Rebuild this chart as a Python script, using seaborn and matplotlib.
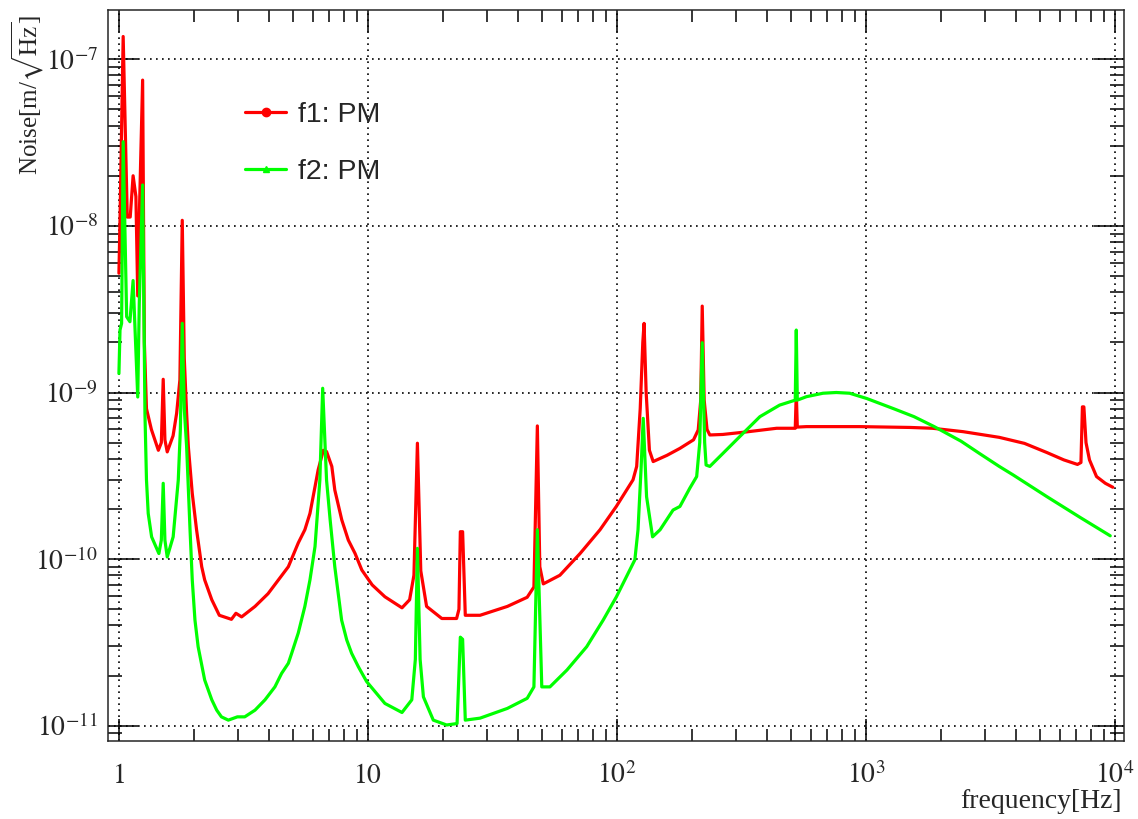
import numpy as np
import pandas as pd
import matplotlib
matplotlib.use('Agg')
import matplotlib.pyplot as plt
from matplotlib.lines import Line2D
from matplotlib.ticker import LogLocator, NullFormatter, FixedLocator
import seaborn as sns

#DATA
f1_freq = [1.00, 1.01, 1.04, 1.08, 1.11, 1.14, 1.17, 1.19, 1.21, 1.245,
           1.265, 1.29, 1.35, 1.44, 1.48, 1.506, 1.53, 1.563, 1.65, 1.705,
           1.757, 1.796, 1.83, 1.87, 1.90, 1.97, 2.05, 2.15, 2.21, 2.36,
           2.53, 2.83, 2.95, 3.11, 3.52, 3.97, 4.37, 4.79, 5.25, 5.58,
           5.85, 6.13, 6.31, 6.62, 6.82, 7.16, 7.36, 7.85, 8.34, 8.88,
           9.45, 10.4, 11.7, 13.7, 14.7, 15.3, 15.8, 16.3, 17.2, 19.8,
           22.7, 23.2, 23.5, 24.0, 24.6, 28.2, 36.3, 43.6, 46.4, 47.9,
           49.0, 50.6, 59.0, 71.1, 85.5, 99.4, 116, 120, 124, 127,
           128.5, 131, 135, 139.8, 159, 179, 203, 212, 217, 220,
           224, 230, 236, 266, 331, 438, 520, 525, 530, 577,
           943, 1500, 1850, 2455, 3430, 4330, 5330, 6230, 7070, 7300,
           7400, 7500, 7650, 7900, 8430, 9150, 9800]
f1_noise = [5.2e-9, 1.08e-8, 1.37e-7, 1.13e-8, 1.13e-8, 2.0e-8, 1.5e-8, 3.8e-9, 1.3e-8, 7.5e-8,
            2.0e-9, 8.0e-10, 6.0e-10, 4.5e-10, 5.0e-10, 1.2e-9, 5.2e-10, 4.4e-10, 5.5e-10, 7.5e-10,
            1.19e-9, 1.08e-8, 1.6e-9, 7.5e-10, 4.73e-10, 2.48e-10, 1.5e-10, 9.0e-11, 7.5e-11, 5.7e-11,
            4.6e-11, 4.35e-11, 4.73e-11, 4.5e-11, 5.2e-11, 6.2e-11, 7.5e-11, 9.0e-11, 1.25e-10, 1.5e-10,
            1.88e-10, 2.72e-10, 3.43e-10, 4.5e-10, 4.42e-10, 3.6e-10, 2.6e-10, 1.72e-10, 1.3e-10, 1.08e-10,
            8.6e-11, 7.0e-11, 5.94e-11, 5.1e-11, 5.7e-11, 8.0e-11, 4.96e-10, 8.5e-11, 5.2e-11, 4.4e-11,
            4.4e-11, 5.0e-11, 1.46e-10, 1.46e-10, 4.6e-11, 4.6e-11, 5.2e-11, 5.9e-11, 6.8e-11, 6.3e-10,
            9.0e-11, 7.1e-11, 8.0e-11, 1.08e-10, 1.5e-10, 2.07e-10, 2.99e-10, 3.6e-10, 8.0e-10, 2.0e-9,
            2.6e-9, 1.0e-9, 4.5e-10, 3.85e-10, 4.2e-10, 4.62e-10, 5.2e-10, 5.96e-10, 9.0e-10, 3.3e-9,
            9.0e-10, 6.0e-10, 5.56e-10, 5.6e-10, 5.8e-10, 6.1e-10, 6.1e-10, 1.0e-9, 6.2e-10, 6.24e-10,
            6.24e-10, 6.17e-10, 6.1e-10, 5.82e-10, 5.38e-10, 4.95e-10, 4.36e-10, 3.94e-10, 3.7e-10, 3.8e-10,
            8.2e-10, 8.2e-10, 5.0e-10, 3.94e-10, 3.13e-10, 2.85e-10, 2.7e-10]

f2_freq = [1.00, 1.01, 1.025, 1.04, 1.074, 1.107, 1.14, 1.19, 1.207, 1.245,
           1.272, 1.29, 1.311, 1.353, 1.447, 1.48, 1.506, 1.53, 1.563, 1.651,
           1.731, 1.765, 1.796, 1.83, 1.87, 1.93, 1.97, 2.02, 2.08, 2.21,
           2.36, 2.47, 2.58, 2.75, 2.99, 3.2, 3.52, 3.86, 4.23, 4.5,
           4.79, 4.94, 5.25, 5.58, 5.85, 6.13, 6.41, 6.58, 6.82, 7.05,
           7.36, 7.84, 8.22, 8.6, 9.15, 9.88, 11.7, 13.7, 15.0, 15.5,
           15.8, 16.2, 16.7, 18.3, 20.7, 22.8, 23.5, 24.0, 24.6, 28.2,
           36.3, 43.6, 46.4, 47.9, 49.9, 53.8, 63, 75.6, 88, 99.5,
           118, 121.5, 125, 127.5, 131.5, 139, 149, 168, 179, 196,
           209, 215, 220, 225, 228, 236, 266, 311, 375, 450,
           520, 525, 530, 577, 672, 760, 860, 1008, 1290, 1560,
           1880, 2410, 2860, 3430, 3900, 5330, 7240, 9570]
f2_noise = [1.3e-9, 2.37e-9, 2.6e-9, 3.2e-8, 2.85e-9, 2.66e-9, 4.7e-9, 9.4e-10, 3.43e-9, 1.76e-8,
            7.5e-10, 3.0e-10, 1.88e-10, 1.36e-10, 1.08e-10, 1.3e-10, 2.85e-10, 1.3e-10, 1.03e-10, 1.36e-10,
            2.98e-10, 6.0e-10, 2.6e-9, 8.0e-10, 4.73e-10, 1.5e-10, 7.5e-11, 4.3e-11, 2.98e-11, 1.88e-11,
            1.43e-11, 1.24e-11, 1.13e-11, 1.08e-11, 1.13e-11, 1.13e-11, 1.24e-11, 1.43e-11, 1.71e-11, 2.06e-11,
            2.37e-11, 2.72e-11, 3.6e-11, 5.2e-11, 7.5e-11, 1.19e-10, 2.98e-10, 1.06e-9, 2.98e-10, 1.72e-10,
            9.0e-11, 4.3e-11, 3.27e-11, 2.72e-11, 2.26e-11, 1.84e-11, 1.36e-11, 1.2e-11, 1.43e-11, 2.5e-11,
            1.16e-10, 2.5e-11, 1.49e-11, 1.08e-11, 1.01e-11, 1.03e-11, 3.4e-11, 3.3e-11, 1.08e-11, 1.11e-11,
            1.27e-11, 1.46e-11, 1.71e-11, 1.5e-10, 1.71e-11, 1.71e-11, 2.16e-11, 2.98e-11, 4.3e-11, 5.94e-11,
            9.9e-11, 1.5e-10, 3.5e-10, 7.0e-10, 2.37e-10, 1.36e-10, 1.5e-10, 1.97e-10, 2.07e-10, 2.66e-10,
            3.13e-10, 5.0e-10, 1.99e-9, 5.0e-10, 3.67e-10, 3.6e-10, 4.3e-10, 5.43e-10, 7.16e-10, 8.4e-10,
            9.0e-10, 2.37e-9, 9.0e-10, 9.44e-10, 9.9e-10, 1.0e-9, 9.9e-10, 9.2e-10, 8.0e-10, 7.16e-10,
            6.24e-10, 5.1e-10, 4.3e-10, 3.6e-10, 3.2e-10, 2.37e-10, 1.78e-10, 1.38e-10]

legend_labels = ['f1: PM', 'f2: PM']
x_ticks = [1, 10, 100, 1000, 10000]
x_tick_labels = ['$1$', '$10$', '$10^{2}$', '$10^{3}$', '$10^{4}$']
y_ticks = [1e-11, 1e-10, 1e-9, 1e-8, 1e-7]
y_tick_labels = ['$10^{-11}$', '$10^{-10}$', '$10^{-9}$', '$10^{-8}$', '$10^{-7}$']

#STYLE
sns.set_style('ticks')
plt.rcParams['font.family'] = ['Liberation Serif', 'DejaVu Serif']
plt.rcParams['mathtext.fontset'] = 'stix'
plt.rcParams['axes.linewidth'] = 1.1

fig = plt.figure(figsize=(11.38, 8.19), dpi=100)
ax = fig.add_axes([0.0946, 0.0952, 0.8931, 0.8926])
ax.set_xscale('log')
ax.set_yscale('log')

#PLOT
sns.lineplot(x=f1_freq, y=f1_noise, ax=ax, color='#ff0000', linewidth=2.3,
             sort=False, estimator=None, zorder=3)
sns.lineplot(x=f2_freq, y=f2_noise, ax=ax, color='#00ff00', linewidth=2.3,
             sort=False, estimator=None, zorder=4)

ax.set_xlim(0.901, 10870)
ax.set_ylim(8.09e-12, 1.977e-7)

#Ticks
ax.xaxis.set_major_locator(FixedLocator(x_ticks))
ax.set_xticklabels(x_tick_labels)
ax.yaxis.set_major_locator(FixedLocator(y_ticks))
ax.set_yticklabels(y_tick_labels)
ax.xaxis.set_minor_locator(LogLocator(base=10, subs=np.arange(2, 10), numticks=100))
ax.yaxis.set_minor_locator(LogLocator(base=10, subs=np.arange(2, 10), numticks=100))
ax.xaxis.set_minor_formatter(NullFormatter())
ax.yaxis.set_minor_formatter(NullFormatter())

ax.tick_params(which='both', direction='in', top=True, right=True, color='black', width=1.1)
ax.tick_params(axis='x', which='major', length=16, labelsize=20, pad=30)
ax.tick_params(axis='x', which='minor', length=8.5)
ax.tick_params(axis='y', which='major', length=21.5, labelsize=20, pad=7)
ax.tick_params(axis='y', which='minor', length=10)
for t in ax.get_xticklabels():
    t.set_verticalalignment('baseline')

#Grid
ax.grid(which='major', color='black', linestyle=(0, (1, 2.6)), linewidth=1.2, zorder=1)
ax.grid(which='minor', visible=False)

#Axis titles
ax.set_xlabel('frequency[Hz]', fontsize=20, loc='right')
ax.xaxis.set_label_coords(0.998, -0.066)
ax.set_ylabel(r'Noise[m/$\sqrt{\mathrm{Hz}}$]', fontsize=18, loc='top')
ax.yaxis.set_label_coords(-0.061, 0.993)

#Legend
handles = [Line2D([], [], color='#ff0000', lw=2.3, marker='o', markersize=6),
           Line2D([], [], color='#00ff00', lw=2.3, marker='^', markersize=5)]
ax.legend(handles, legend_labels, loc='upper left', bbox_to_anchor=(245 / 1138, 1 - 102 / 819),
          bbox_transform=fig.transFigure, frameon=False, borderpad=0, borderaxespad=0,
          handlelength=1.45, handletextpad=0.4, labelspacing=1.1,
          prop={'family': 'Liberation Sans', 'size': 20.5})

plt.savefig('out.png', dpi=100)
